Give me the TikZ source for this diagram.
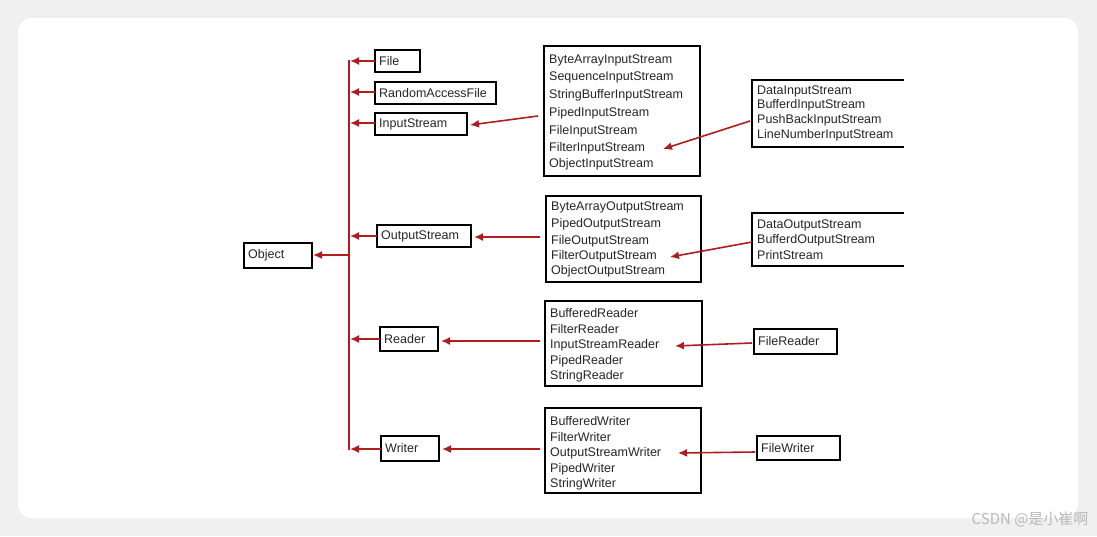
\documentclass[tikz,border=0pt]{standalone}
\usepackage{fontspec}
\setmainfont{Liberation Sans}
\newfontfamily\cjk{Noto Sans CJK SC}
\usetikzlibrary{arrows.meta}
\begin{document}
\begin{tikzpicture}[x=1pt,y=-1pt,
  box/.style={draw=black,line width=2pt,inner sep=0pt},
  lbl/.style={font=\fontsize{12.5}{13}\selectfont,text=black!85,anchor=west,inner sep=0pt},
  arr/.style={draw={rgb,255:red,175;green,30;blue,30},line width=1.6pt,-{Latex[length=9pt,width=8pt]}},
  ln/.style={draw={rgb,255:red,175;green,30;blue,30},line width=1.6pt}]
\fill[gray!12] (0,0) rectangle (1097,536);
\fill[white,rounded corners=14pt] (18,18) rectangle (1078,518);
% small boxes
\foreach \n/\t/\xa/\ya/\xb/\yb in {file/File/375/50/420/72, raf/RandomAccessFile/375/82/496/104, ins/InputStream/375/113/467/135, outs/OutputStream/377/225/471/247, obj/Object/244/243/312/268, rdr/Reader/380/327/438/351, wtr/Writer/381/436/439/461, fr/FileReader/754/329/837/354, fw/FileWriter/757/436/840/460}{
  \draw[box] (\xa,\ya) rectangle (\xb,\yb);
  \node[lbl] (\n) at (\xa+4,{(\ya+\yb)/2}) {\t};
}
% list boxes
\draw[box] (544,46) rectangle (700,176);
\foreach \t/\y [count=\i] in {ByteArrayInputStream/60,SequenceInputStream/77,StringBufferInputStream/95,PipedInputStream/113,FileInputStream/131,FilterInputStream/148,ObjectInputStream/164}
  \node[lbl] (a\i) at (549,\y) {\t};
\draw[box] (546,196) rectangle (701,282);
\foreach \t/\y [count=\i] in {ByteArrayOutputStream/207,PipedOutputStream/224,FileOutputStream/241,FilterOutputStream/256,ObjectOutputStream/271}
  \node[lbl] (b\i) at (551,\y) {\t};
\draw[box] (545,301) rectangle (702,386);
\foreach \t/\y [count=\i] in {BufferedReader/313,FilterReader/329,InputStreamReader/345,PipedReader/361,StringReader/376}
  \node[lbl] (c\i) at (550,\y) {\t};
\draw[box] (545,408) rectangle (701,493);
\foreach \t/\y [count=\i] in {BufferedWriter/421,FilterWriter/437,OutputStreamWriter/453,PipedWriter/469,StringWriter/484}
  \node[lbl] (d\i) at (550,\y) {\t};
\begin{scope}
\clip (740,70) rectangle (904,280);
\draw[box] (904,80) -- (752,80) -- (752,147) -- (904,147);
\foreach \t/\y [count=\i] in {DataInputStream/91,BufferdInputStream/105,PushBackInputStream/120,LineNumberInputStream/135}
  \node[lbl] (e\i) at (757,\y) {\t};
\draw[box] (904,213) -- (752,213) -- (752,266) -- (904,266);
\foreach \t/\y [count=\i] in {DataOutputStream/225,BufferdOutputStream/240,PrintStream/255}
  \node[lbl] (f\i) at (757,\y) {\t};
\end{scope}
% trunk
\coordinate (top) at (349,60); \coordinate (bot) at (349,450);
\draw[ln,line width=2.2pt] (top) -- (bot);
\foreach \y/\xs in {61/375,92/375,123/375,236/377,339/380,449/381}
  \draw[arr] (\xs,\y) -- (350,\y);
\draw[arr] (349,255) -- (313,255);
% connectors
\draw[arr] (538,116) -- (470,125);
\draw[arr] (750,121) -- (663,149);
\draw[arr] (540,237) -- (474,237);
\draw[arr] (752,242) -- (670,257);
\draw[arr] (540,341) -- (441,341);
\draw[arr] (752,343) -- (675,346);
\draw[arr] (540,449) -- (442,449);
\draw[arr] (755,452) -- (678,453);
\node[font=\cjk\fontsize{15}{16}\selectfont,text=gray!55,anchor=east] (wm) at (1092,519) {CSDN @是小崔啊};
\end{tikzpicture}
\end{document}
